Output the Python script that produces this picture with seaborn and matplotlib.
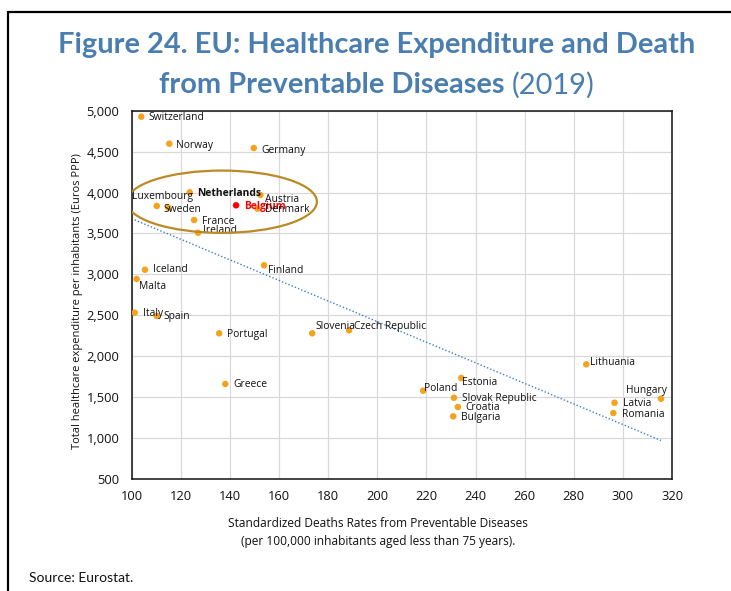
import matplotlib
matplotlib.use("Agg")
import matplotlib.pyplot as plt
import seaborn as sns
import pandas as pd
from matplotlib.patches import Ellipse
from matplotlib.lines import Line2D
from matplotlib.ticker import FuncFormatter, MultipleLocator

# data
countries = ["Switzerland", "Norway", "Germany", "Netherlands", "Luxembourg", "Sweden",
             "France", "Ireland", "Belgium", "Austria", "Denmark", "Iceland", "Malta",
             "Finland", "Italy", "Spain", "Portugal", "Greece", "Slovenia", "Czech Republic",
             "Poland", "Estonia", "Slovak Republic", "Croatia", "Bulgaria", "Lithuania",
             "Latvia", "Romania", "Hungary"]
death_rates = [103.9, 115.3, 149.7, 123.6, 110.2, 114.9, 125.4, 127.0, 142.5, 152.4,
               151.2, 105.4, 102.0, 153.9, 101.2, 110.2, 135.6, 138.1, 173.5, 188.5,
               218.7, 234.2, 231.2, 232.8, 230.9, 285.1, 296.6, 296.1, 315.5]
expenditure = [4927, 4597, 4544, 4003, 3836, 3815, 3664, 3509, 3844, 3970,
               3803, 3057, 2944, 3111, 2532, 2492, 2280, 1661, 2280, 2317,
               1579, 1734, 1493, 1380, 1266, 1901, 1432, 1306, 1481]

x_ticks = list(range(100, 321, 20))
y_ticks = list(range(500, 5001, 500))

# label placement (pixels from the point: dx, dy, ha)
label_pos = {
    "Switzerland": (7, -1, "left"), "Norway": (7, -2, "left"), "Germany": (8, -2, "left"),
    "Netherlands": (7, -1, "left"), "Luxembourg": (6, 9, "center"), "Sweden": (-5, -2, "left"),
    "France": (8, -1, "left"), "Ireland": (5, 2, "left"), "Belgium": (8, -1, "left"),
    "Austria": (5, -5, "left"), "Denmark": (8, -1, "left"), "Iceland": (8, 0, "left"),
    "Malta": (2, -8, "left"), "Finland": (4, -5, "left"), "Italy": (8, -1, "left"),
    "Spain": (7, -1, "left"), "Portugal": (8, -1, "left"), "Greece": (8, -1, "left"),
    "Slovenia": (3, 7, "left"), "Czech Republic": (5, 4, "left"), "Poland": (1, 2, "left"),
    "Estonia": (1, -4, "left"), "Slovak Republic": (8, -1, "left"), "Croatia": (8, -1, "left"),
    "Bulgaria": (8, -1, "left"), "Lithuania": (4, 2, "left"), "Latvia": (8, -1, "left"),
    "Romania": (9, -1, "left"), "Hungary": (6, 8, "right"),
}

df = pd.DataFrame({"country": countries, "deaths": death_rates, "spend": expenditure})
df["highlight"] = df["country"].eq("Belgium")

sns.set_theme(style="whitegrid")
plt.rcParams["font.family"] = ["Open Sans", "DejaVu Sans"]

fig = plt.figure(figsize=(7.31, 5.91), dpi=100)
ax = fig.add_axes([0.1802, 0.1895, 0.7391, 0.6232])

sns.regplot(data=df, x="deaths", y="spend", scatter=False, ci=None, ax=ax,
            line_kws={"color": "#3D7FCC", "lw": 1.0, "linestyle": (0, (1, 1.5))})
sns.scatterplot(data=df, x="deaths", y="spend", hue="highlight",
                palette={False: "#F5A21C", True: "#FF0000"}, s=22, linewidth=0,
                legend=False, ax=ax, zorder=3)

for name, xv, yv in zip(countries, death_rates, expenditure):
    dx, dy, ha = label_pos[name]
    weight = "bold" if name in ("Netherlands", "Belgium") else "normal"
    color = "#FF0000" if name == "Belgium" else "#111111"
    ax.annotate(name, (xv, yv), xytext=(dx, dy), textcoords="offset pixels",
                ha=ha, va="center", fontsize=7.4, fontweight=weight, color=color, zorder=4)

ax.add_patch(Ellipse((136.7, 3888), 77.4, 761, fill=False, edgecolor="#BC8A25", lw=1.6, zorder=5))

ax.set_xlim(100, 320)
ax.set_ylim(500, 5000)
ax.xaxis.set_major_locator(MultipleLocator(20))
ax.yaxis.set_major_locator(MultipleLocator(500))
ax.yaxis.set_major_formatter(FuncFormatter(lambda v, p: f"{int(v):,}"))
ax.tick_params(axis="x", length=0, labelsize=9.3, colors="#111111", pad=8)
ax.tick_params(axis="y", length=0, labelsize=9.3, colors="#111111", pad=9)
ax.grid(True, color="#D9D9D9", lw=0.9)
for sp in ax.spines.values():
    sp.set_color("#111111")
    sp.set_linewidth(1.1)

ax.set_xlabel("Standardized Deaths Rates from Preventable Diseases\n(per 100,000 inhabitants aged less than 75 years).",
              fontsize=8.6, color="#111111", linespacing=1.5, va="center")
ax.xaxis.set_label_coords(0.456, -0.146)
ax.set_ylabel("Total healthcare expenditure per inhabitants (Euros PPP)",
              fontsize=8.0, color="#111111", va="center")
ax.yaxis.set_label_coords(-0.101, 0.483)

# title, two weights on the second line; scale to the reference width
title_font = ["Lato", "DejaVu Sans"]
blue = "#4A7EB0"
fig.canvas.draw()
r = fig.canvas.get_renderer()
size = 20
probe = fig.text(0, 0, "Figure 24. EU: Healthcare Expenditure and Death", fontsize=size,
                 fontweight="bold", family=title_font)
size = size * 637 / probe.get_window_extent(r).width
probe.remove()

fig.text(0.515, 0.924, "Figure 24. EU: Healthcare Expenditure and Death", ha="center", va="center",
         fontsize=size, fontweight="bold", color=blue, family=title_font)
t1 = fig.text(0, 0.856, "from Preventable Diseases ", ha="left", va="center",
              fontsize=size, fontweight="bold", color=blue, family=title_font)
t2 = fig.text(0, 0.856, "(2019)", ha="left", va="center",
              fontsize=size, color=blue, family=title_font)
fig.canvas.draw()
w1 = t1.get_window_extent(r).width / fig.bbox.width
w2 = t2.get_window_extent(r).width / fig.bbox.width
x0 = 0.515 - (w1 + w2) / 2
t1.set_x(x0)
t2.set_x(x0 + w1)

fig.text(29 / 731, 1 - 578 / 591, "Source: Eurostat.", ha="left", va="center", fontsize=10,
         color="#111111", family=["Lato", "DejaVu Sans"])

# outer frame (left and top edges only)
fig.add_artist(Line2D([8 / 731, 8 / 731], [0, 1 - 12 / 591], color="black", lw=1.6))
fig.add_artist(Line2D([8 / 731, 1], [1 - 12 / 591, 1 - 12 / 591], color="black", lw=1.6))

fig.savefig("out.png", dpi=100)
